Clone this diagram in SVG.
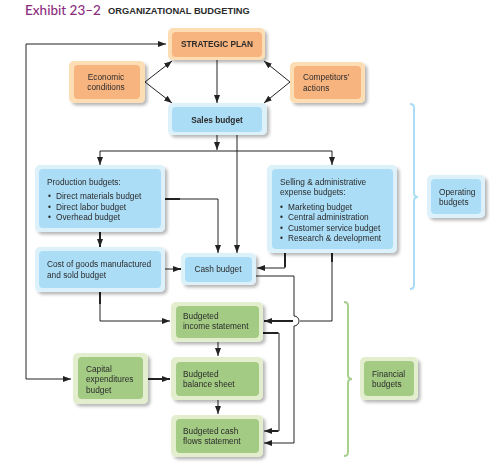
<svg xmlns="http://www.w3.org/2000/svg" width="495" height="476" viewBox="0 0 495 476">
<defs>
<marker id="ah" viewBox="0 0 8 6" refX="8" refY="3" markerWidth="8" markerHeight="6" markerUnits="userSpaceOnUse" orient="auto-start-reverse">
<path d="M0,0 L8,3 L0,6 z" fill="#222"/>
</marker>
<filter id="sh" x="-20%" y="-20%" width="150%" height="160%">
<feDropShadow dx="2.5" dy="2.5" stdDeviation="1.8" flood-color="#000" flood-opacity="0.28"/>
</filter>
<style>
.t{font-family:"Liberation Sans",Arial,sans-serif;font-size:8.3px;fill:#2b2b2b}
.b{font-weight:bold}
.m{text-anchor:middle}
.oo{fill:#FDDDB3}.oi{fill:#F8B47F}
.bo{fill:#DDF1FB}.bi{fill:#ABDDF6}
.go{fill:#E3EECF}.gi{fill:#A4CB84}
.ln{fill:none;stroke:#222;stroke-width:1}
.tk{fill:none;stroke:#222;stroke-width:2}
.ar{marker-end:url(#ah)}
</style>
</defs>
<rect width="495" height="476" fill="#fff"/>
<g id="title">
<text x="25" y="15" font-family="Lato,'Open Sans',sans-serif" font-size="13.5" font-weight="500" fill="#8A2D7E">Exhibit 23–2</text>
<text x="108" y="14" font-family="'Liberation Sans',Arial,sans-serif" font-size="9.3" font-weight="bold" fill="#2b2b2b">ORGANIZATIONAL BUDGETING</text>
</g>
<g id="braces">
<path d="M410,104 Q414,104 414,108 V193 Q414,197 418,197 Q414,197 414,201 V285 Q414,289 410,289" fill="none" stroke="#A9DCF5" stroke-width="2"/>
<path d="M344,302 Q348,302 348,306 V375 Q348,379 352,379 Q348,379 348,383 V452 Q348,456 344,456" fill="none" stroke="#A8D08D" stroke-width="2"/>
</g>
<g id="connectors">
<path class="ln" d="M166,44 H26 V379 H71" marker-start="url(#ah)" marker-end="url(#ah)"/>
<path class="ln ar" d="M145,82 L172,61"/>
<path class="ln ar" d="M145,82 L172,103"/>
<path class="ln ar" d="M290,82 L264,61"/>
<path class="ln ar" d="M290,82 L264,103"/>
<path class="ln ar" d="M217,60 V103"/>
<path class="ln ar" d="M217,135 V150"/>
<path class="ln" d="M100,151 H332"/>
<path class="ln ar" d="M100,151 V165"/>
<path class="ln ar" d="M332,151 V165"/>
<path class="ln ar" d="M237,135 V253" stroke-width="1.8"/>
<path class="ln ar" d="M165,199 H218 V253"/>
<path class="tk" d="M165,199 H180"/>
<path class="tk ar" d="M100,232 V247"/>
<path class="ln ar" d="M165,269 H181"/>
<path class="tk" d="M176,269 H181"/>
<path class="ln ar" d="M285,253 V268 H257"/>
<path class="tk" d="M285,253 V267"/>
<path class="ln ar" d="M256,276 H294 V316 A5,5 0 0 1 294,326 V443 H264"/>
<path class="ln" d="M332,253 V321 H300"/>
<path class="tk" d="M332,253 V262"/>
<path class="tk ar" d="M293,321 H264"/>
<path class="ln ar" d="M263,333 H279 V431 H264"/>
<path class="tk" d="M263,333 H278"/>
<path class="tk" d="M270,431 H278"/>
<path class="ln ar" d="M100,292 V321 H170"/>
<path class="tk" d="M100,292 V304"/>
<path class="ln ar" d="M218,342 V356"/>
<path class="ln ar" d="M218,400 V414"/>
<path class="tk ar" d="M148,379 H170"/>
</g>
<g id="strategic-plan" filter="url(#sh)">
<rect class="oo" x="168" y="28" width="97" height="32" rx="5"/>
<rect class="oi" x="172" y="32" width="90" height="25" rx="4"/>
<text class="t b m" x="217" y="47">STRATEGIC PLAN</text>
</g>
<g id="economic-conditions" filter="url(#sh)">
<rect class="oo" x="69" y="61" width="76" height="42" rx="5"/>
<rect class="oi" x="74" y="65" width="66" height="34" rx="4"/>
<text class="t m" x="106" y="80">Economic</text>
<text class="t m" x="106" y="90">conditions</text>
</g>
<g id="competitors-actions" filter="url(#sh)">
<rect class="oo" x="290" y="62" width="75" height="41" rx="5"/>
<rect class="oi" x="294" y="66" width="67" height="33" rx="4"/>
<text class="t" x="303" y="80">Competitors'</text>
<text class="t" x="303" y="91">actions</text>
</g>
<g id="sales-budget" filter="url(#sh)">
<rect class="bo" x="168" y="103" width="99" height="32" rx="5"/>
<rect class="bi" x="172" y="107" width="90" height="25" rx="4"/>
<text class="t b m" x="217" y="123">Sales budget</text>
</g>
<g id="production-budgets" filter="url(#sh)">
<rect class="bo" x="35" y="165" width="130" height="67" rx="5"/>
<rect class="bi" x="39" y="169" width="122" height="59" rx="4"/>
<text class="t" x="47" y="185">Production budgets:</text>
<text class="t" x="48" y="199">•</text><text class="t" x="56" y="199">Direct materials budget</text>
<text class="t" x="48" y="210">•</text><text class="t" x="56" y="210">Direct labor budget</text>
<text class="t" x="48" y="220">•</text><text class="t" x="56" y="220">Overhead budget</text>
</g>
<g id="cost-of-goods" filter="url(#sh)">
<rect class="bo" x="35" y="247" width="130" height="45" rx="5"/>
<rect class="bi" x="39" y="251" width="122" height="37" rx="4"/>
<text class="t" x="47" y="267">Cost of goods manufactured</text>
<text class="t" x="47" y="278">and sold budget</text>
</g>
<g id="cash-budget" filter="url(#sh)">
<rect class="bo" x="181" y="253" width="75" height="32" rx="5"/>
<rect class="bi" x="185" y="257" width="67" height="25" rx="4"/>
<text class="t m" x="218" y="272">Cash budget</text>
</g>
<g id="selling-admin" filter="url(#sh)">
<rect class="bo" x="267" y="165" width="130" height="88" rx="5"/>
<rect class="bi" x="272" y="169" width="121" height="80" rx="4"/>
<text class="t" x="280" y="185">Selling &amp; administrative</text>
<text class="t" x="280" y="195">expense budgets:</text>
<text class="t" x="280" y="210">•</text><text class="t" x="288" y="210">Marketing budget</text>
<text class="t" x="280" y="220">•</text><text class="t" x="288" y="220">Central administration</text>
<text class="t" x="280" y="231">•</text><text class="t" x="288" y="231">Customer service budget</text>
<text class="t" x="280" y="241">•</text><text class="t" x="288" y="241">Research &amp; development</text>
</g>
<g id="operating-budgets" filter="url(#sh)">
<rect class="bo" x="427" y="175" width="58" height="43" rx="5"/>
<rect class="bi" x="431" y="179" width="50" height="35" rx="4"/>
<text class="t" x="439" y="195">Operating</text>
<text class="t" x="439" y="205">budgets</text>
</g>
<g id="income-statement" filter="url(#sh)">
<rect class="go" x="171" y="302" width="92" height="40" rx="5"/>
<rect class="gi" x="176" y="306" width="83" height="32" rx="4"/>
<text class="t" x="183" y="319">Budgeted</text>
<text class="t" x="183" y="329">income statement</text>
</g>
<g id="capital-expenditures" filter="url(#sh)">
<rect class="go" x="73" y="353" width="75" height="51" rx="5"/>
<rect class="gi" x="78" y="357" width="65" height="42" rx="4"/>
<text class="t" x="86" y="372">Capital</text>
<text class="t" x="86" y="382">expenditures</text>
<text class="t" x="86" y="393">budget</text>
</g>
<g id="balance-sheet" filter="url(#sh)">
<rect class="go" x="171" y="357" width="92" height="43" rx="5"/>
<rect class="gi" x="176" y="362" width="83" height="34" rx="4"/>
<text class="t" x="183" y="377">Budgeted</text>
<text class="t" x="183" y="387">balance sheet</text>
</g>
<g id="cash-flows" filter="url(#sh)">
<rect class="go" x="171" y="415" width="92" height="42" rx="5"/>
<rect class="gi" x="176" y="419" width="83" height="34" rx="4"/>
<text class="t" x="183" y="434">Budgeted cash</text>
<text class="t" x="183" y="444">flows statement</text>
</g>
<g id="financial-budgets" filter="url(#sh)">
<rect class="go" x="360" y="357" width="58" height="43" rx="5"/>
<rect class="gi" x="364" y="361" width="50" height="35" rx="4"/>
<text class="t" x="372" y="377">Financial</text>
<text class="t" x="372" y="387">budgets</text>
</g>
</svg>
